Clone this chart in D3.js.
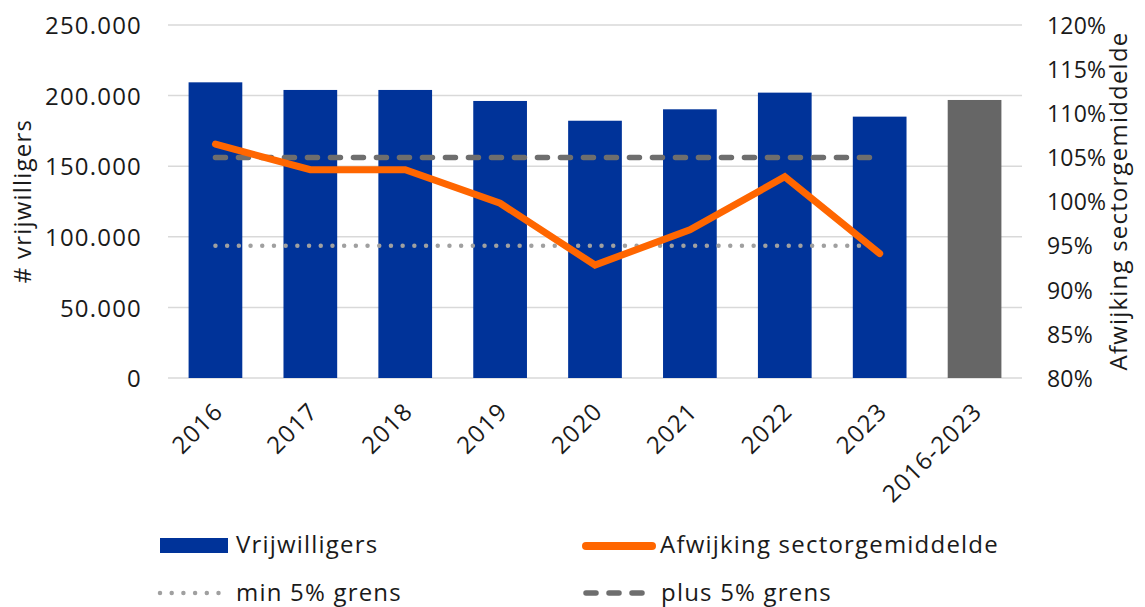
<!DOCTYPE html>
<html>
<head>
<meta charset="utf-8">
<script src="https://cdn.jsdelivr.net/npm/d3@7"></script>
<style>
  html, body { margin: 0; padding: 0; background: #fff; }
  svg text { font-family: "Open Sans", "Noto Sans", sans-serif; fill: #1a1a1a; letter-spacing: 1.2px; }
</style>
</head>
<body>
<svg id="chart" width="1145" height="607"></svg>
<script>
// ---- data ----
const categories = ["2016", "2017", "2018", "2019", "2020", "2021", "2022", "2023", "2016-2023"];
const vrijwilligers = [209400, 204000, 204000, 196200, 182200, 190300, 202100, 185100, 196900];
const lineYears = ["2016", "2017", "2018", "2019", "2020", "2021", "2022", "2023"];
const afwijking = [106.5, 103.6, 103.6, 99.8, 92.8, 96.8, 102.8, 94.1];
const minGrens = [95, 95, 95, 95, 95, 95, 95, 95];
const plusGrens = [105, 105, 105, 105, 105, 105, 105, 105];
const leftTicks = [0, 50000, 100000, 150000, 200000, 250000];
const rightTicks = [80, 85, 90, 95, 100, 105, 110, 115, 120];

const svg = d3.select("#chart");
const plot = { left: 168, right: 1022, top: 25, bottom: 378 };
const FS = 24;

const x = d3.scaleBand().domain(categories).range([plot.left, plot.right]).paddingInner(0.434).paddingOuter(0.217);
const yL = d3.scaleLinear().domain([0, 250000]).range([plot.bottom, plot.top]);
const yR = d3.scaleLinear().domain([80, 120]).range([plot.bottom, plot.top]);
const cx = c => x(c) + x.bandwidth() / 2;

const nl = d3.formatLocale({ decimal: ",", thousands: ".", grouping: [3], currency: ["€", ""] });
const fmt = nl.format(",d");

// gridlines
svg.append("g").selectAll("line").data(leftTicks).join("line")
  .attr("x1", plot.left).attr("x2", plot.right)
  .attr("y1", d => yL(d)).attr("y2", d => yL(d))
  .attr("stroke", "#d9d9d9").attr("stroke-width", 1.5);

// left axis
const gL = svg.append("g").attr("transform", `translate(${plot.left - 26},0)`)
  .call(d3.axisLeft(yL).tickValues(leftTicks).tickFormat(fmt).tickSize(0).tickPadding(0));
gL.select(".domain").remove();
gL.selectAll("text").attr("font-size", FS).attr("dy", "0.36em").style("font-family", "\"Open Sans\", sans-serif").attr("fill", "#1a1a1a");

// right axis
const gR = svg.append("g").attr("transform", `translate(${plot.right + 25},0)`)
  .call(d3.axisRight(yR).tickValues(rightTicks).tickFormat(d => d + "%").tickSize(0).tickPadding(0));
gR.select(".domain").remove();
gR.selectAll("text").attr("font-size", 23).attr("dy", "0.36em").style("font-family", "\"Open Sans\", sans-serif")
  .style("letter-spacing", "0.2px").attr("fill", "#1a1a1a");

// bars
svg.append("g").selectAll("rect").data(categories).join("rect")
  .attr("x", d => x(d)).attr("width", x.bandwidth())
  .attr("y", (d, i) => yL(vrijwilligers[i]))
  .attr("height", (d, i) => yL(0) - yL(vrijwilligers[i]))
  .attr("fill", (d, i) => i === categories.length - 1 ? "#666666" : "#003399");

// x labels
svg.append("g").selectAll("text").data(categories).join("text")
  .attr("transform", d => `translate(${cx(d) + 9},413) rotate(-45)`)
  .attr("text-anchor", "end")
  .attr("font-size", FS)
  .text(d => d);

// lines
const lineGen = vals => d3.line().x((d, i) => cx(lineYears[i])).y(d => yR(d))(vals);

svg.append("path").attr("d", lineGen(plusGrens))
  .attr("fill", "none").attr("stroke", "#6e6e6e").attr("stroke-width", 5.5)
  .attr("stroke-linecap", "round").attr("stroke-dasharray", "10,13");

svg.append("path").attr("d", lineGen(minGrens))
  .attr("fill", "none").attr("stroke", "#a0a0a0").attr("stroke-width", 4.5)
  .attr("stroke-linecap", "round").attr("stroke-dasharray", "0,11.7");

svg.append("path").attr("d", lineGen(afwijking))
  .attr("fill", "none").attr("stroke", "#ff6600").attr("stroke-width", 7)
  .attr("stroke-linecap", "round").attr("stroke-linejoin", "miter");

// axis titles
svg.append("text").attr("transform", "translate(31,201) rotate(-90)")
  .attr("text-anchor", "middle").attr("font-size", FS).text("# vrijwilligers");
svg.append("text").attr("transform", "translate(1127,201) rotate(-90)")
  .attr("text-anchor", "middle").attr("font-size", FS).text("Afwijking sectorgemiddelde");

// legend
const leg = svg.append("g");
leg.append("rect").attr("x", 160).attr("y", 538).attr("width", 68).attr("height", 15).attr("fill", "#003399");
leg.append("text").attr("x", 236).attr("y", 553).attr("font-size", FS).text("Vrijwilligers");
leg.append("line").attr("x1", 586).attr("x2", 652).attr("y1", 546).attr("y2", 546)
  .attr("stroke", "#ff6600").attr("stroke-width", 8).attr("stroke-linecap", "round");
leg.append("text").attr("x", 660).attr("y", 553).attr("font-size", FS).text("Afwijking sectorgemiddelde");
leg.append("line").attr("x1", 160).attr("x2", 220).attr("y1", 593).attr("y2", 593)
  .attr("stroke", "#a0a0a0").attr("stroke-width", 4.5).attr("stroke-linecap", "round").attr("stroke-dasharray", "0,11.7");
leg.append("text").attr("x", 236).attr("y", 601).attr("font-size", FS).text("min 5% grens");
leg.append("line").attr("x1", 586).attr("x2", 644).attr("y1", 593).attr("y2", 593)
  .attr("stroke", "#6e6e6e").attr("stroke-width", 5.5).attr("stroke-linecap", "round").attr("stroke-dasharray", "10,13");
leg.append("text").attr("x", 661).attr("y", 601).attr("font-size", FS).text("plus 5% grens");
</script>
</body>
</html>
